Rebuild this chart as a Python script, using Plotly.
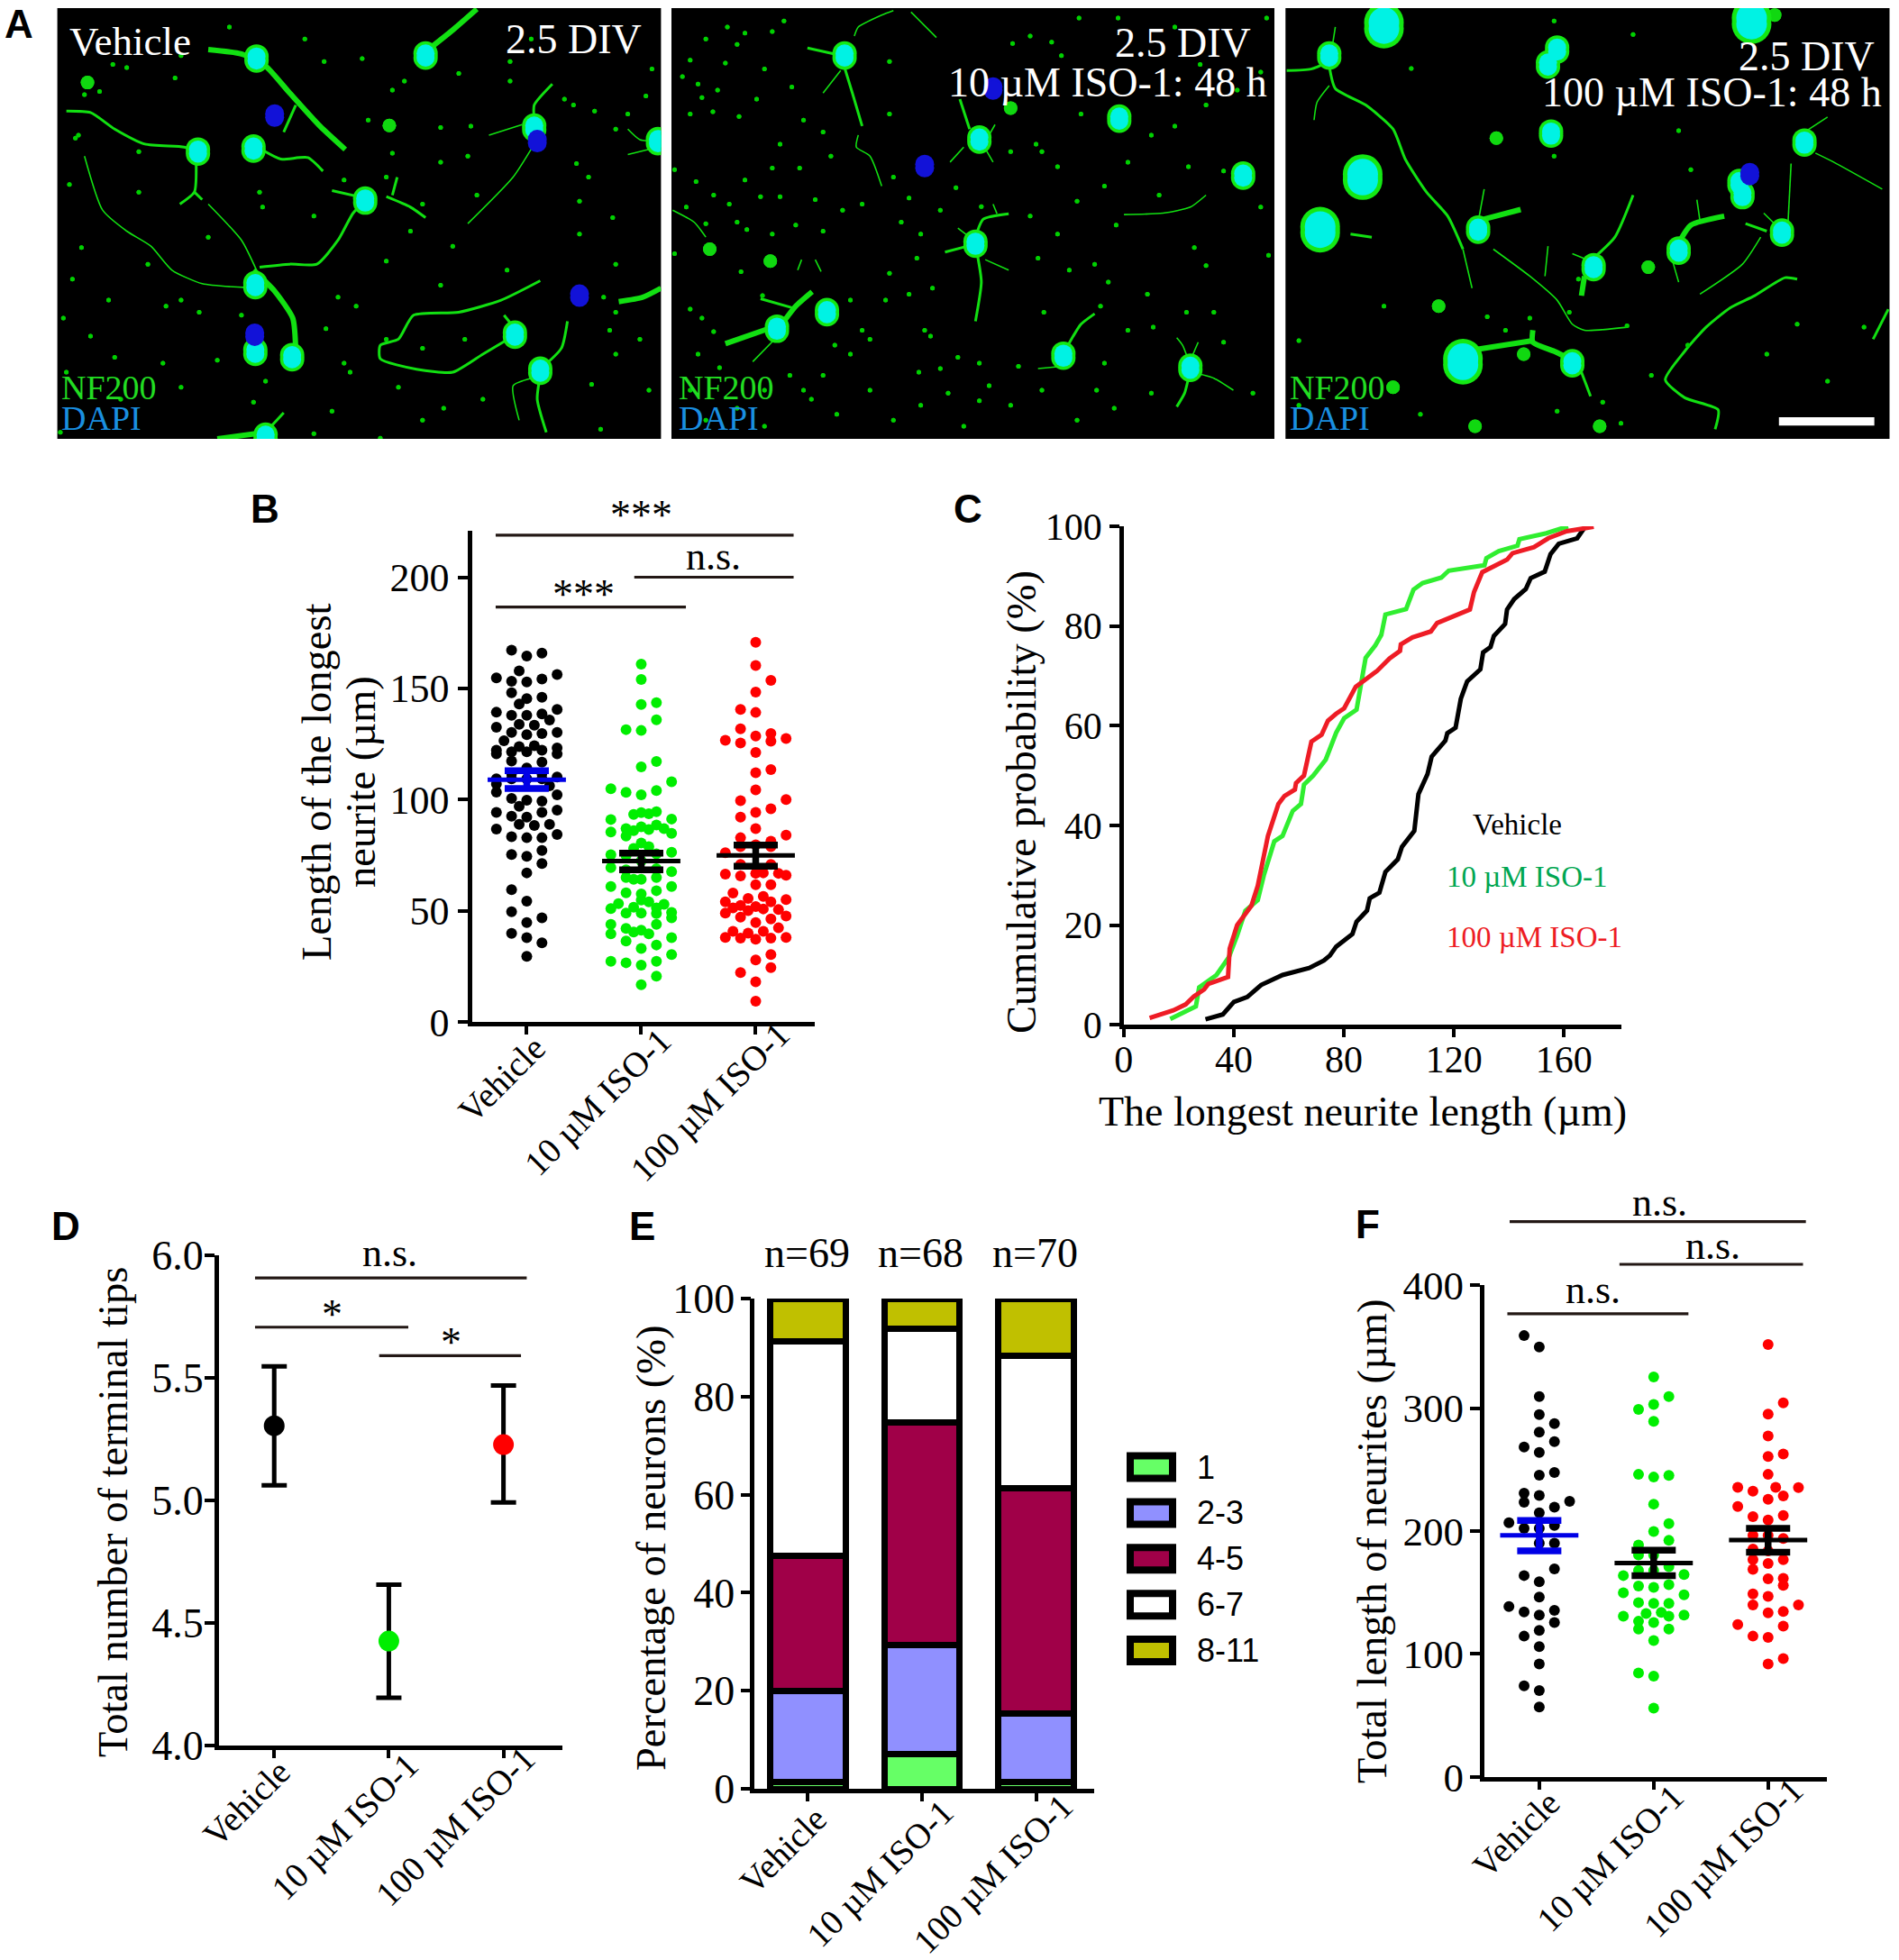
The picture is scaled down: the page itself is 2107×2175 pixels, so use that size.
import plotly.graph_objects as go

W, H = 2107, 2175
SERIF = "Liberation Serif"
SANS = "Liberation Sans"

groups = ["Vehicle", "10 µM ISO-1", "100 µM ISO-1"]
group_colors = ["#000000", "#00ee00", "#ff0000"]
mean_colors = ["#0000e6", "#000000", "#000000"]

# B: length of the longest neurite, slots = swarm column of each dot
b_veh = [167.2,164.6,165.9,157.9,154.7,153.2,152.9,154.2,156.3,148.1,145.4,146.0,143.0,139.3,137.9,137.9,138.5,135.8,140.6,132.6,
         133.9,133.5,130.2,129.2,129.7,130.2,126.5,123.9,124.3,122.2,120.6,121.5,121.5,122.2,123.3,120.6,117.4,116.9,114.2,111.8,
         111.8,109.4,107.0,109.4,109.4,109.4,110.2,103.4,106.2,102.2,100.6,99.8,99.4,97.0,94.3,92.6,92.2,94.3,95.3,88.9,
         88.4,88.9,86.8,83.4,82.9,82.9,84.4,77.2,75.4,74.5,71.3,67.1,59.6,54.4,49.6,46.9,44.8,39.9,38.0,35.7,29.6]
b_veh_slots = [-2,0,2,-1,-4,-2,0,2,4,-2,0,2,-1,-4,-2,0,2,3,4,-4,
               -1,1,-2,0,2,4,-3,-1,1,-4,-4,-2,0,2,4,4,-2,2,0,-2,
               2,-4,-4,-2,0,2,4,-4,3,4,-2,0,2,-1,-4,-2,0,2,4,-1,
               1,3,-4,-2,0,2,4,2,-2,0,2,0,-2,0,-2,2,0,-2,0,2,0]
b_low = [160.9,154.0,142.8,143.6,135.9,131.5,131.1,114.7,117.2,108.1,104.9,103.3,102.2,104.1,93.4,94.2,93.7,94.6,91.1,91.3,
         87.0,86.1,87.8,86.6,88.6,87.0,85.5,84.9,83.7,80.5,78.9,78.1,75.3,74.9,75.7,76.4,72.5,69.5,68.5,69.0,
         67.7,65.0,64.2,64.2,65.0,61.0,61.0,58.1,57.6,59.1,54.9,54.1,53.3,53.0,51.1,51.7,51.4,49.0,49.0,48.8,
         49.3,46.9,44.0,44.0,39.7,42.1,40.5,41.3,39.7,36.5,38.0,33.1,34.7,30.4,27.4,26.7,25.6,27.4,20.7,16.8]
b_low_slots = [0,0,0,2,2,-2,0,0,2,4,-4,-2,0,2,-1,0,1,2,-4,4,
               -2,-1,0,1,2,3,-4,4,-2,0,1,-1,-4,-2,2,4,0,-4,-2,2,
               4,-2,-1,0,2,-4,4,-2,0,2,0,1,-3,3,-4,-1,2,-2,0,2,
               4,4,-4,2,-4,-2,-1,0,1,-2,4,0,2,4,-4,-2,0,2,2,0]
b_high = [170.7,160.3,153.6,148.4,140.6,139.2,131.9,129.7,128.6,126.7,125.5,126.3,127.5,121.2,112.1,113.5,104.4,99.6,100.1,95.9,
          94.3,92.2,87.0,84.1,82.9,81.3,76.2,78.9,79.7,78.9,70.9,70.9,66.5,65.7,66.9,67.1,66.9,66.0,61.8,61.8,
          58.0,56.5,54.1,55.6,54.1,55.1,52.5,51.4,52.0,50.9,50.6,49.0,50.1,47.7,47.2,46.4,44.8,42.4,40.8,40.0,
          40.8,38.1,37.8,37.3,37.8,38.1,30.4,28.0,24.5,22.3,18.1,9.4]
b_high_slots = [0,0,2,0,-2,0,-2,2,0,-4,-2,2,4,0,0,2,0,-2,4,2,
                0,-2,0,4,-2,2,-4,-2,0,2,-2,2,-4,-2,0,1,3,4,0,2,
                -3,1,-4,-1,2,4,-2,-3,0,1,3,-4,-1,4,-2,2,0,3,-3,-1,
                1,-4,-2,0,2,4,2,0,2,-2,0,0]
b_means = [109.0, 72.4, 74.9]
b_sem_up = [4.0, 3.6, 4.7]
b_sem_down = [4.0, 3.9, 4.8]

# C: cumulative probability curves
c_veh_x = [29.7,36.0,40.0,44.9,49.9,57.7,67.4,72.7,74.9,77.2,83.1,84.6,88.4,89.4,92.9,95.1,99.6,101.1,105.6,107.1,110.4,111.9,116.9,117.6,120.6,122.5,124.8,129.6,130.6,133.3,134.5,138.6,139.3,141.9,146.1,147.9,153.0,155.1,158.1,164.8,167.8]
c_veh_y = [1.1,2.1,4.6,5.6,8.0,10.0,11.4,12.9,13.9,15.7,18.2,20.7,22.9,25.4,26.5,30.7,33.2,35.7,38.9,46.3,50.3,53.8,57.0,58.5,59.6,65.4,68.9,71.3,74.7,75.8,78.0,80.4,83.3,85.4,87.4,89.6,90.9,94.4,96.5,97.6,100.0]
c_low_x = [16.9,26.2,27.4,33.7,38.2,41.2,44.2,48.7,50.9,54.7,57.7,61.4,64.4,65.5,68.9,73.4,77.2,80.1,84.6,86.1,87.9,91.4,93.6,95.1,102.6,105.3,108.6,115.4,118.1,131.1,131.8,136.3,143.1,143.8,153.6,161.5]
c_low_y = [1.2,3.7,7.5,10.0,13.6,17.9,22.9,25.0,30.0,36.8,37.9,42.9,44.3,48.2,50.0,53.2,58.6,61.5,63.2,68.6,73.6,76.1,78.2,82.3,83.4,87.3,88.6,89.7,91.1,92.2,93.6,95.0,96.1,97.4,98.6,100.0]
c_high_x = [9.4,18.0,22.5,25.5,29.2,30.7,37.9,38.5,41.2,46.4,48.7,50.9,52.4,56.2,58.4,62.2,62.6,65.5,68.2,71.9,74.2,77.2,80.1,84.3,92.1,96.6,100.4,100.7,104.9,111.6,113.9,125.8,127.3,130.3,139.3,141.3,149.1,154.3,161.0,170.8]
c_high_y = [1.4,2.9,4.1,5.7,7.1,8.2,9.6,15.3,20.0,23.9,27.9,34.3,37.9,44.3,45.9,47.2,48.5,50.0,56.8,58.2,61.0,62.4,63.5,67.8,71.0,73.5,75.0,76.3,77.7,78.9,80.6,83.3,86.8,90.8,93.3,94.6,95.8,97.6,99.0,99.9]

# D: terminal tips
d_means = [5.303, 4.425, 5.226]
d_sem_up = [0.242, 0.230, 0.241]
d_sem_down = [0.243, 0.231, 0.236]

# E: stacked percentages
e_bins = ["1", "2-3", "4-5", "6-7", "8-11"]
e_colors = ["#66ff66", "#9090ff", "#a00048", "#ffffff", "#c0c000"]
e_counts = ["n=69", "n=68", "n=70"]
e_bin1 = [1.4, 7.0, 1.4]
e_bin2 = [18.6, 22.3, 14.0]
e_bin3 = [27.6, 45.5, 45.9]
e_bin4 = [43.6, 19.1, 27.1]
e_bin5 = [8.8, 6.1, 11.6]

# F: total length of neurites
f_veh = [359.0,349.8,309.4,294.8,287.4,280.4,272.8,268.4,263.9,247.7,245.5,230.8,228.9,223.5,224.2,219.4,214.9,206.7,202.2,202.2,
         204.5,190.1,190.1,169.2,163.8,158.7,146.3,138.6,134.2,135.5,131.6,125.6,119.2,114.5,105.9,91.9,74.1,70.3,56.9]
f_veh_slots = [-2,0,0,0,2,0,2,-2,0,2,0,-2,0,-2,4,2,0,-4,-2,0,
               2,0,2,2,-2,0,0,-4,-2,2,0,2,0,-2,0,0,-2,0,0]
f_low = [325.3,309.4,303.0,298.9,289.3,246.1,243.9,245.2,221.9,206.0,199.7,192.4,188.6,180.6,180.6,167.9,167.9,171.1,163.8,164.7,
         155.2,154.2,156.4,148.2,149.8,141.8,141.2,141.2,132.9,133.9,130.7,130.7,131.6,126.6,125.6,120.2,120.2,111.0,84.6,82.0,56.0]
f_low_slots = [0,2,0,-2,0,-2,0,2,0,2,0,2,-2,-2,0,-2,0,2,-4,4,
               -2,0,2,4,-4,-2,0,2,-1,1,-4,2,4,-2,0,-2,2,0,-2,0,0]
f_high = [351.7,304.3,295.1,277.3,262.6,260.7,246.1,235.6,232.4,235.6,235.3,228.6,225.8,220.0,211.8,212.7,208.9,196.5,194.0,196.5,
          185.4,183.8,176.8,176.8,173.6,168.8,161.2,161.5,155.8,148.8,146.9,139.9,139.9,133.5,134.5,124.0,122.7,114.5,113.5,96.3,91.9]
f_high_slots = [0,2,0,0,2,0,0,-4,-2,1,4,2,0,-4,-2,2,0,-2,2,0,
                -2,0,-2,2,0,-2,0,2,2,-2,0,-2,4,0,2,-4,2,-2,0,2,0]
f_means = [196.5, 173.9, 192.7]
f_sem_up = [12.1, 10.5, 9.5]
f_sem_down = [12.7, 10.1, 9.9]

# significance bars: x from, x to, height in axis units
b_sig = [(-0.272, 2.331, 218.9), (0.939, 2.331, 200.0), (-0.272, 1.39, 186.6)]
d_sig = [(-0.167, 2.203, 5.906), (-0.167, 1.17, 5.705), (0.916, 2.153, 5.589)]
f_sig = [(-0.26, 2.33, 451.8), (0.70, 2.305, 417.0), (-0.28, 1.303, 376.8)]

# A: micrographs traced by eye, in the coordinates of each panel
p1_thick = [[(345,165),(400,180),(440,220),(480,310),(530,420),(572,498)], [(790,30),(750,100),(700,180)],
            [(1095,960),(1065,990),(1025,1005)], [(420,900),(455,970),(485,1060),(490,1170)], [(360,1462),(440,1440)]]
p1_mid = [[(490,350),(470,440)], [(110,370),(150,375),(190,430),(240,480),(305,490),(325,505)], [(325,540),(322,640),(298,680)],
          [(322,640),(335,665)], [(435,500),(465,530),(510,525),(535,570)], [(605,670),(585,710),(560,800),(525,880),(480,880),(430,890)],
          [(605,660),(550,635)], [(640,655),(680,690),(705,725)], [(650,650),(658,590)], [(885,400),(885,350),(915,280)],
          [(850,1120),(800,1180),(750,1240),(690,1230),(630,1195),(630,1150),(660,1130),(685,1050),(760,1040),(830,1000),(895,935)],
          [(855,1100),(835,1050)], [(895,1230),(930,1160),(940,1070)], [(895,1250),(890,1330),(905,1440)], [(440,1440),(470,1375)]]
p1_thin = [[(140,520),(170,700),(210,770),(250,820),(285,900),(335,945),(410,958)], [(345,680),(400,800),(425,900)],
           [(885,480),(850,590),(775,745)], [(865,415),(810,450)], [(880,1260),(850,1285),(860,1400)],
           [(1095,470),(1060,465),(1040,430)], [(1090,490),(1040,515)]]
p1_somas = [(425,195),(705,185),(885,425),(328,505),(420,495),(605,668),(423,950),(423,1172),(484,1190),(853,1115),(895,1235),(1090,470),(440,1455)]
p1_big = []
p1_nuclei = [(455,385),(890,470),(960,985),(422,1115)]
p1_blobs = [(645,418),(145,275)]
p1_specks = [(300,185),(187,215),(210,225),(290,260),(140,315),(165,305),(380,90),(505,130),(537,205),(600,195),(670,270),(650,300),(760,245),
             (845,205),(845,270),(935,330),(1020,430),(1070,320),(1040,380),(985,370),(780,420),(730,425),(775,520),(650,510),(570,600),(955,545),
             (975,590),(1015,725),(960,670),(700,680),(680,770),(750,820),(345,790),(135,825),(120,930),(125,460),(230,505),(435,690),(115,615),
             (960,780),(1020,880),(840,900),(300,1000),(275,1020),(105,1060),(540,1095),(590,1020),(190,1190),(570,1210),(640,1130),(700,1160),
             (1020,1180),(1020,1040),(800,1330),(995,1430),(520,1445),(360,1200),(270,1210),(440,1270),(100,1440),(1010,1100),(630,1460),(580,1240),(660,1290),(735,1360),
             (130,450),(230,640),(430,640),(520,720),(640,590),(730,540),(790,650),(950,350),(1080,230),(880,130),(610,400),(245,880),(180,1000),(330,1040),(400,1050),
             (560,990),(640,870),(730,950),(1000,990),(770,1130),(1060,1130),(1075,1300),(980,1280),(110,1240),(200,1330),(300,1290),(420,1340),(550,1370),(700,1400),(150,1120)]

p2_thick = [[(150,1145),(260,1095)], [(300,1070),(330,1020),(372,972)]]
p2_mid = [[(360,160),(430,180)], [(455,225),(475,310),(500,420)], [(750,330),(775,430)], [(790,790),(810,730),(875,712)],
          [(712,840),(770,820)], [(795,850),(805,940),(790,1070)], [(240,995),(320,1025)], [(1010,1190),(1040,1120),(1060,1080),(1095,1045)],
          [(1335,1260),(1325,1310),(1305,1355)]]
p2_thin = [[(445,235),(400,310)], [(490,450),(485,490),(520,520),(550,620)], [(480,120),(490,90),(550,50),(580,35)], [(625,40),(690,125)],
           [(840,415),(825,450)], [(760,490),(725,540)], [(815,495),(835,540)], [(835,680),(845,712)], [(745,760),(785,800)], [(815,865),(875,900)],
           [(280,1125),(220,1205)], [(950,1228),(1000,1222)], [(1335,1200),(1320,1150),(1305,1125)], [(1340,1200),(1360,1140)],
           [(1345,1240),(1400,1260),(1450,1300)], [(1380,650),(1340,690),(1270,710),(1170,715)], [(15,700),(70,740),(100,790)],
           [(335,900),(345,865)], [(380,865),(395,905)]]
p2_somas = [(455,185),(800,465),(1158,395),(1475,585),(790,812),(282,1095),(410,1040),(1015,1185),(1340,1225)]
p2_big = []
p2_nuclei = [(660,553),(835,295)]
p2_blobs = [(880,360),(265,870),(110,830)]
p2_specks = [(40,255),(180,148),(155,90),(270,105),(90,325),(118,372),(185,388),(230,330),(150,210),(60,380),(290,480),(340,560),(290,655),(240,655),
             (380,665),(160,680),(100,745),(205,765),(75,605),(20,565),(20,845),(190,905),(245,985),(60,1030),(90,1060),(135,1225),(120,1105),(315,1250),
             (180,1360),(370,1330),(435,1380),(700,1228),(800,1210),(745,1190),(645,1240),(800,1335),(825,1285),(660,1100),(570,910),(470,1000),(580,590),
             (570,380),(570,205),(740,625),(805,688),(930,120),(885,145),(985,140),(1055,60),(1010,185),(1155,60),(1300,90),(1365,215),(1535,60),(945,480),
             (960,505),(880,505),(1000,555),(1060,380),(1260,650),(1335,555),(1425,570),(1150,750),(1095,880),(1380,885),(1350,825),(950,860),(1245,1090),
             (1330,1040),(1425,1140),(1240,1310),(1500,1310),(1145,1360),(965,1040),(1110,1020),(1520,690),(1540,850),(1400,1040),(1120,1210),(900,1220),
             (600,740),(640,860),(520,1130),(430,1150),(675,1120),
             (100,130),(200,110),(300,70),(60,200),(80,280),(130,300),(250,230),(320,290),(350,400),(400,440),(420,520),(270,560),(200,600),(120,650),(50,690),
             (180,740),(270,780),(330,750),(400,770),(450,700),(500,680),(620,660),(650,780),(700,700),(680,960),(620,980),(560,1000),(500,1100),(470,1180),(400,1250),
             (350,1300),(250,1300),(80,1180),(60,1300),(100,1400),(250,1420),(520,1300),(580,1400),(650,1350),(720,1310),(760,1420),(880,1350),(960,1300),(1050,1400),
             (1100,1300),(1180,1100),(1230,980),(1130,940),(1030,900),(1000,780),(930,720),(1050,670),(1120,620),(1180,540),(1240,450),(1300,420),(1380,350),(1460,300),(1520,240)]

p3_thick = [[(885,730),(945,698)], [(870,1165),(965,1135)], [(965,1100),(965,1140),(1000,1170),(1030,1200)], [(1205,810),(1225,750),(1280,720)], [(1050,920),(1045,985)]]
p3_mid = [[(630,205),(600,230),(560,235)], [(630,220),(640,295),(690,350),(735,430),(755,530),(790,640),(825,720),(850,830)], [(665,780),(700,790)],
          [(1065,860),(1100,790),(1130,650)], [(1045,1240),(1060,1320)], [(1315,745),(1350,770)],
          [(1400,930),(1380,925),(1330,985),(1290,1025),(1250,1090),(1215,1170),(1183,1265),(1215,1325),(1270,1365),(1265,1430)], [(1550,1030),(1525,1130)]]
p3_thin = [[(850,830),(865,960)], [(630,285),(610,340),(605,400)], [(635,155),(640,90)], [(875,740),(885,630)], [(1030,845),(1060,870)],
           [(900,830),(960,920),(1005,1000),(1030,1080),(1050,1100),(1120,1090)], [(990,820),(985,920)], [(1235,665),(1240,735)], [(1190,835),(1205,940)],
           [(1345,710),(1375,770)], [(1385,740),(1390,545)], [(1430,510),(1460,540),(1540,630)], [(1412,440),(1450,390)], [(1340,790),(1310,880),(1240,980)]]
p3_somas = [(630,185),(1005,165),(990,215),(995,445),(1412,475),(875,765),(1305,610),(1310,650),(1375,775),(1205,835),(1065,890),(1030,1210)]
p3_big = [(720,85),(1325,70),(685,590),(615,765),(850,1205)]
p3_nuclei = [(1322,580)]
p3_blobs = [(1075,1420),(870,1420),(1155,890),(905,460),(810,1020),(735,1290),(1363,50),(950,1180)]
p3_specks = [(1130,115),(1000,70),(765,228),(1205,435),(1225,565),(1000,520),(580,1135),(720,1020),(890,1055),(860,1210),(1040,930),(1120,1085),(1160,1250),
             (1025,1040),(960,1060),(920,1100),(580,1350),(1005,1370),(1110,1410),(1510,1090),(780,1380),(1080,1340),(1350,1180),(1450,1270),(1220,1150),(1400,1080)]


def fx(px):
    return px / W


def fy(py):
    return 1 - py / H


fig = go.Figure()
layout = {}
shapes = []
annotations = []


def add_text(px, py, text, size=44, color="black", angle=0, anchor="center", family=SERIF, bold=False):
    if bold:
        text = "<b>" + text + "</b>"
    annotations.append(dict(x=fx(px), y=fy(py), xref="paper", yref="paper", text=text, showarrow=False,
                            xanchor=anchor, yanchor="middle", textangle=angle,
                            font=dict(family=family, size=size, color=color)))


def flatten(paths):
    xs, ys = [], []
    for path in paths:
        for x, y in path:
            xs.append(x)
            ys.append(y)
        xs.append(None)
        ys.append(None)
    return xs, ys


def image_panel(n, left, right, xlim, thick, mid, thin, somas, big, nuclei, blobs, specks, speck_size=5):
    """One micrograph panel, black background, axes hidden."""
    top, bottom = 9, 487
    ylim = [1462, 27]
    layout[f"xaxis{n}"] = dict(domain=[fx(left), fx(right)], range=xlim, visible=False, anchor=f"y{n}", automargin=False)
    layout[f"yaxis{n}"] = dict(domain=[fy(bottom), fy(top)], range=ylim, visible=False, anchor=f"x{n}", automargin=False)
    shapes.append(dict(type="rect", xref="paper", yref="paper", x0=fx(left), x1=fx(right), y0=fy(bottom), y1=fy(top),
                       fillcolor="black", line_width=0, layer="below"))
    ax = dict(xaxis=f"x{n}", yaxis=f"y{n}", showlegend=False, hoverinfo="skip")
    for paths, width in [(thin, 1.6), (mid, 3), (thick, 6)]:
        xs, ys = flatten(paths)
        fig.add_trace(go.Scatter(x=xs, y=ys, mode="lines", line=dict(color="#12e012", width=width, shape="spline", smoothing=0.6), **ax))
    # cell bodies are taller than wide, so each is stamped twice, a little apart
    for pts, color, size, stretch in [(specks, "#00d000", speck_size, 0), (blobs, "#10d810", 15, 0), (somas, "#14e814", 27, 7), (big, "#14e814", 44, 10),
                                      (somas, "#00f2e4", 20, 7), (big, "#00f2e4", 34, 10), (nuclei, "#1212d8", 21, 6)]:
        if pts:
            xs = [p[0] for p in pts] + [p[0] for p in pts]
            ys = [p[1] - stretch for p in pts] + [p[1] + stretch for p in pts]
            fig.add_trace(go.Scatter(x=xs, y=ys, mode="markers", marker=dict(color=color, size=size, line_width=0), **ax))


image_panel(1, 63.6, 733.4, [95, 1095], p1_thick, p1_mid, p1_thin, p1_somas, p1_big, p1_nuclei, p1_blobs, p1_specks)
image_panel(2, 745, 1414, [12, 1555], p2_thick, p2_mid, p2_thin, p2_somas, p2_big, p2_nuclei, p2_blobs, p2_specks, speck_size=5)
image_panel(3, 1426.3, 2096.5, [558, 1552], p3_thick, p3_mid, p3_thin, p3_somas, p3_big, p3_nuclei, p3_blobs, p3_specks)

shapes.append(dict(type="rect", xref="x3", yref="y3", x0=1370, x1=1527, y0=1390, y1=1418, fillcolor="white", line_width=0))

add_text(144, 46, "Vehicle", size=45, color="white")
for px, py, txt in [(636, 44, "2.5 DIV"), (1312, 47, "2.5 DIV"), (1229, 92, "10 µM ISO-1: 48 h"),
                    (2004, 62, "2.5 DIV"), (1899, 103, "100 µM ISO-1: 48 h")]:
    add_text(px, py, txt, size=46, color="white")
for px in [66, 751, 1429]:
    add_text(px, 430, "NF200", size=38, color="#22dd22", anchor="left")
    add_text(px, 464, "DAPI", size=38, color="#1a8fe0", anchor="left")


def plot_axes(n, axis_x, right, top, zero, xrange, yrange, xticks, yticks, ytext=None, lw=4.5, tick_size=44, standoff=0):
    layout[f"xaxis{n}"] = dict(domain=[fx(axis_x + lw / 2), fx(right)], range=xrange, anchor=f"y{n}", showgrid=False, zeroline=False,
                               showline=True, linecolor="black", linewidth=lw + 0.5, ticks="outside", ticklen=9, tickwidth=3.5, automargin=False,
                               tickcolor="black", tickvals=xticks, showticklabels=False, tickfont=dict(family=SERIF, size=42, color="black"))
    layout[f"yaxis{n}"] = dict(domain=[fy(zero), fy(top)], range=yrange, anchor=f"x{n}", showgrid=False, zeroline=False, automargin=False,
                               showline=True, linecolor="black", linewidth=lw, ticks="outside", ticklen=11, tickwidth=4,
                               tickcolor="black", tickvals=yticks, ticktext=ytext, ticklabelstandoff=standoff,
                               tickfont=dict(family=SERIF, size=tick_size, color="black"))


def swarm(n, i, values, slots, color, step=0.0663, size=12):
    assert len(values) == len(slots)
    fig.add_trace(go.Scatter(x=[i + s * step for s in slots], y=values, mode="markers", xaxis=f"x{n}", yaxis=f"y{n}",
                             marker=dict(color=color, size=size, line_width=0), cliponaxis=False, showlegend=False, name=groups[i]))


def mean_sem(n, means, ups, downs, colors, halfwidth=0.342, cap=24.5, stem=7.5):
    for i, m in enumerate(means):
        fig.add_trace(go.Scatter(x=[i], y=[m], mode="markers", xaxis=f"x{n}", yaxis=f"y{n}", marker=dict(size=1, color=colors[i]),
                                 error_x=dict(type="data", array=[halfwidth], color=colors[i], thickness=5, width=0),
                                 error_y=dict(type="data", symmetric=False, array=[ups[i]], arrayminus=[downs[i]], color=colors[i], thickness=stem, width=cap),
                                 cliponaxis=False, showlegend=False))


def sig_bars(sigs, first, step, ymin, ymax, top, zero):
    for x0, x1, y in sigs:
        py = zero - (y - ymin) * (zero - top) / (ymax - ymin)
        shapes.append(dict(type="line", xref="paper", yref="paper", x0=fx(first + x0 * step), x1=fx(first + x1 * step),
                           y0=fy(py), y1=fy(py), line=dict(color="#231815", width=3.2)))


def slanted_labels(first, step, offsets, axis_y):
    for i, (dx, dy) in enumerate(offsets):
        add_text(first + i * step + dx, axis_y + dy, groups[i], size=39, angle=-45)


# panel B
b_first, b_step, b_zero, b_top = 584.5, 127.0, 1134.3, 589.4
plot_axes(4, 521.7, 903.6, b_top, b_zero, [(524 - b_first) / b_step, (903.6 - b_first) / b_step], [0, 220.7], [0, 1, 2], [0, 50, 100, 150, 200],
          tick_size=44, standoff=1)
for i, (vals, slots) in enumerate([(b_veh, b_veh_slots), (b_low, b_low_slots), (b_high, b_high_slots)]):
    swarm(4, i, vals, slots, group_colors[i])
mean_sem(4, b_means, b_sem_up, b_sem_down, mean_colors)
sig_bars(b_sig, b_first, b_step, 0, 220.7, b_top, b_zero)
slanted_labels(b_first, b_step, [(-28, 63), (-48, 89), (-50.5, 89)], b_zero)
add_text(351, 868, "Length of the longest", size=46.5, angle=-90)
add_text(400, 868, "neurite (µm)", size=46.5, angle=-90)
add_text(711.5, 572, "***", size=46)
add_text(647, 659, "***", size=46)
add_text(791.5, 618, "n.s.", size=44)

# panel C
plot_axes(5, 1244.6, 1798.8, 584, 1137.3, [0, 180.8], [0, 100], [0, 40, 80, 120, 160], [0, 20, 40, 60, 80, 100], tick_size=42, standoff=0)
layout["xaxis5"]["showticklabels"] = True
layout["xaxis5"]["ticklabelstandoff"] = -12
for xs, ys, color, name in [(c_veh_x, c_veh_y, "#000000", groups[0]), (c_low_x, c_low_y, "#30ee30", groups[1]), (c_high_x, c_high_y, "#ee1c25", groups[2])]:
    fig.add_trace(go.Scatter(x=xs, y=ys, mode="lines", xaxis="x5", yaxis="y5", line=dict(color=color, width=5), name=name, showlegend=False, cliponaxis=False))
add_text(1133, 890, "Cumulative probability (%)", size=46.5, angle=-90)
add_text(1512, 1233, "The longest neurite length (µm)", size=46)
add_text(1683, 915, groups[0], size=33)
add_text(1694.6, 973, groups[1], size=33, color="#00a651")
add_text(1702, 1040, groups[2], size=33, color="#ed1c24")

# panel D
d_first, d_step, d_zero, d_top = 304.2, 127.2, 1936.7, 1392.5
plot_axes(6, 240.4, 624, d_top, d_zero, [(242.6 - d_first) / d_step, (624 - d_first) / d_step], [4, 6], [0, 1, 2], [4, 4.5, 5, 5.5, 6],
          ytext=["4.0", "4.5", "5.0", "5.5", "6.0"], tick_size=46, standoff=-8)
for i, m in enumerate(d_means):
    fig.add_trace(go.Scatter(x=[i], y=[m], mode="markers", xaxis="x6", yaxis="y6", marker=dict(size=23, color=group_colors[i], line_width=0),
                             error_y=dict(type="data", symmetric=False, array=[d_sem_up[i]], arrayminus=[d_sem_down[i]], color="black", thickness=5, width=14),
                             cliponaxis=False, showlegend=False, name=groups[i]))
sig_bars(d_sig, d_first, d_step, 4, 6, d_top, d_zero)
slanted_labels(d_first, d_step, [(-30.5, 64), (-48.5, 90), (-53.5, 90)], d_zero)
add_text(125, 1678, "Total number of terminal tips", size=46.5, angle=-90)
add_text(432, 1390, "n.s.", size=44)
add_text(368, 1458, "*", size=46)
add_text(500, 1489, "*", size=46)

# panel E
e_first, e_step, e_zero, e_top = 896.0, 126.75, 1985.0, 1441.0
plot_axes(7, 835, 1214, e_top, e_zero, [(837 - e_first) / e_step, (1214 - e_first) / e_step], [0, 100], [0, 1, 2], [0, 20, 40, 60, 80, 100],
          tick_size=46, standoff=-3)
for k, vals in enumerate([e_bin1, e_bin2, e_bin3, e_bin4, e_bin5]):
    fig.add_trace(go.Bar(x=[0, 1, 2], y=vals, width=0.66, name=e_bins[k], xaxis="x7", yaxis="y7", showlegend=False,
                         marker=dict(color=e_colors[k], line=dict(color="black", width=7)), cliponaxis=False))
layout["barmode"] = "stack"
slanted_labels(e_first, e_step, [(-28, 68), (-46, 94), (-48, 95)], e_zero)
add_text(722, 1718, "Percentage of neurons (%)", size=46.5, angle=-90)
for i, label in enumerate(e_counts):
    add_text(e_first + i * e_step - 1, 1390, label, size=46)
for k, label in enumerate(e_bins):
    yc = 1628 + k * 50.9
    shapes.append(dict(type="rect", xref="paper", yref="paper", x0=fx(1254), x1=fx(1301), y0=fy(yc + 12.5), y1=fy(yc - 12.5),
                       fillcolor=e_colors[k], line=dict(color="black", width=8)))
    add_text(1326, yc, label, size=36, family=SANS, anchor="left")

# panel F
f_first, f_step, f_zero, f_top = 1708.0, 126.9, 1971.8, 1426.2
plot_axes(8, 1644.6, 2027, f_top, f_zero, [(1647 - f_first) / f_step, (2027 - f_first) / f_step], [0, 400], [0, 1, 2], [0, 100, 200, 300, 400],
          tick_size=45, standoff=-2)
for i, (vals, slots) in enumerate([(f_veh, f_veh_slots), (f_low, f_low_slots), (f_high, f_high_slots)]):
    swarm(8, i, vals, slots, group_colors[i])
mean_sem(8, f_means, f_sem_up, f_sem_down, mean_colors)
sig_bars(f_sig, f_first, f_step, 0, 400, f_top, f_zero)
slanted_labels(f_first, f_step, [(-26, 64), (-48, 90), (-50, 90)], f_zero)
add_text(1522, 1711, "Total length of neurites (µm)", size=46.5, angle=-90)
add_text(1841.6, 1334, "n.s.", size=44)
add_text(1900, 1382, "n.s.", size=44)
add_text(1767.8, 1431, "n.s.", size=44)

# panel letters
for px, py, letter in [(21, 26, "A"), (294, 565, "B"), (1074, 565, "C"), (73, 1360, "D"), (712, 1360, "E"), (1517, 1358, "F")]:
    add_text(px, py, letter, size=44, family=SANS, bold=True)

fig.update_layout(width=W, height=H, margin=dict(l=0, r=0, t=0, b=0), paper_bgcolor="white", plot_bgcolor="rgba(0,0,0,0)",
                  showlegend=False, shapes=shapes, annotations=annotations, **layout)

fig.write_html("out.html", post_script="document.body.style.margin='0';", config=dict(displayModeBar=False))
